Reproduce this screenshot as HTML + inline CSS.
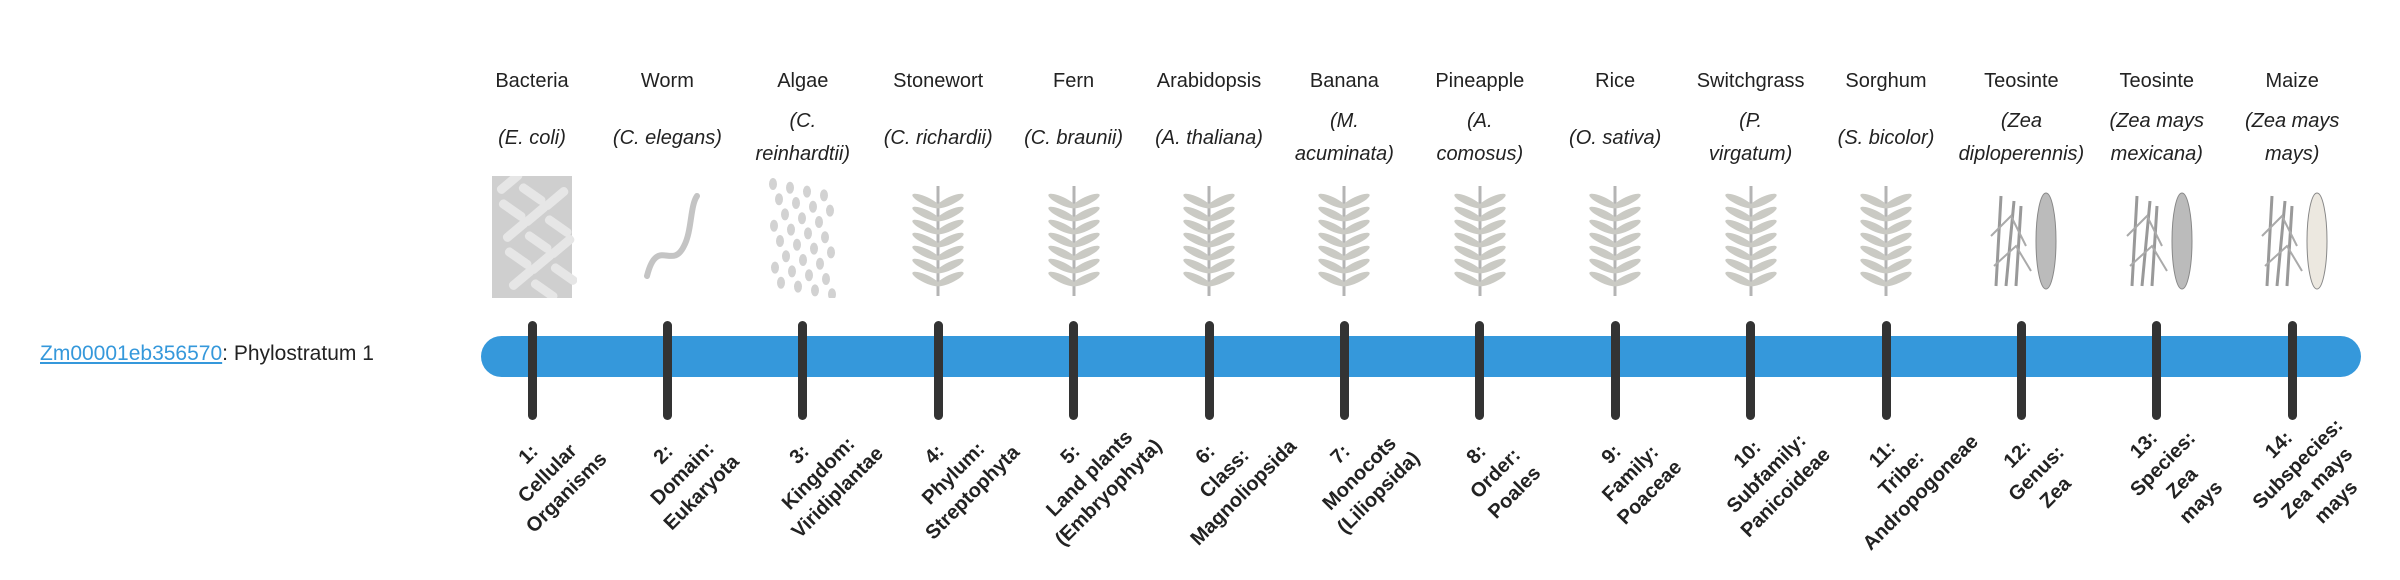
<!DOCTYPE html>
<html><head><meta charset="utf-8"><style>
html,body{margin:0;padding:0;background:#fff;width:2400px;height:580px;overflow:hidden;position:relative;font-family:"Liberation Sans",sans-serif;color:#222}
.t{position:absolute;width:134px;text-align:center;font-size:20px;white-space:nowrap}
.n{top:70px}
.s{font-style:italic;line-height:33px}
.lab{position:absolute;font-size:20px;font-weight:bold;text-align:center;line-height:27px;transform:translate(-50%,-50%) rotate(-45deg);white-space:nowrap;color:#222}
.tick{position:absolute;top:321px;width:9px;height:99px;background:#333;border-radius:5px}
#bar{position:absolute;left:481px;top:336px;width:1880px;height:41px;background:#3598db;border-radius:21px}
#gene{position:absolute;left:40px;top:342px;font-size:21px}
#gene a{color:#3598db;text-decoration:underline}
svg.i{position:absolute;top:176px}
</style></head><body>
<div id="gene"><a>Zm00001eb356570</a>: Phylostratum 1</div>
<div id="bar"></div>
<div id="c"></div>
<script>
var names=["Bacteria","Worm","Algae","Stonewort","Fern","Arabidopsis","Banana","Pineapple","Rice","Switchgrass","Sorghum","Teosinte","Teosinte","Maize"];
var sp=[["(<i>E. coli</i>)"],["(<i>C. elegans</i>)"],["(<i>C.</i>","<i>reinhardtii</i>)"],["(<i>C. richardii</i>)"],["(<i>C. braunii</i>)"],["(<i>A. thaliana</i>)"],["(<i>M.</i>","<i>acuminata</i>)"],["(<i>A.</i>","<i>comosus</i>)"],["(<i>O. sativa</i>)"],["(<i>P.</i>","<i>virgatum</i>)"],["(<i>S. bicolor</i>)"],["(<i>Zea</i>","<i>diploperennis</i>)"],["(<i>Zea mays</i>","<i>mexicana</i>)"],["(<i>Zea mays</i>","<i>mays</i>)"]];
var labs=[["1:","Cellular","Organisms"],["2:","Domain:","Eukaryota"],["3:","Kingdom:","Viridiplantae"],["4:","Phylum:","Streptophyta"],["5:","Land plants","(Embryophyta)"],["6:","Class:","Magnoliopsida"],["7:","Monocots","(Liliopsida)"],["8:","Order:","Poales"],["9:","Family:","Poaceae"],["10:","Subfamily:","Panicoideae"],["11:","Tribe:","Andropogoneae"],["12:","Genus:","Zea"],["13:","Species:","Zea","mays"],["14:","Subspecies:","Zea mays","mays"]];
var h="";
for(var k=0;k<14;k++){
 var x=532+k*135.4;
 h+='<div class="t n" style="left:'+(x-67)+'px">'+names[k]+'</div>';
 var s=sp[k];
 h+='<div class="t s" style="left:'+(x-67)+'px;top:'+(s.length==1?122:105)+'px">'+s.join("<br>")+'</div>';
 h+='<div class="tick" style="left:'+(x-4.5)+'px"></div>';
 h+='<div class="lab" style="left:'+(x+16)+'px;top:474px">'+labs[k].join("<br>")+'</div>';
 var g='<svg class="i" width="90" height="122" style="left:'+(x-45)+'px" viewBox="0 0 90 122">';
 if(k==0){g+='<rect x="5" y="0" width="80" height="122" fill="#cfcfcf"/>';for(var j=0;j<14;j++)g+='<rect x="'+(8+(j*23)%66)+'" y="'+(4+j*8)+'" width="30" height="9" rx="4" fill="#e6e6e6" transform="rotate('+(j%2?35:-40)+' '+(20+(j*23)%66)+' '+(8+j*8)+')"/>';}
 else if(k==1){g+='<path d="M25 100 C35 60 50 95 62 70 C70 55 68 30 75 20" stroke="#c4c4c4" stroke-width="6" fill="none" stroke-linecap="round"/>';}
 else if(k==2){for(var j=0;j<30;j++)g+='<ellipse cx="'+(15+(j*17)%62)+'" cy="'+(8+j*3.8)+'" rx="4" ry="6" fill="#d2d2d2"/>';}
 else if(k>=11){g+='<path d="M20 110 L25 20 M30 110 L38 25 M40 110 L45 30" stroke="#999" stroke-width="3" fill="none"/><path d="M15 60 L35 40 L50 70 M18 90 L40 70 L55 95" stroke="#aaa" stroke-width="2" fill="none"/><ellipse cx="70" cy="65" rx="10" ry="48" fill="'+(k==13?'#ece8e0':'#bbb')+'" stroke="#888"/>';}
 else {g+='<path d="M45 120 L45 10" stroke="#b4b4b4" stroke-width="3"/>';for(var j=0;j<7;j++){var yy=25+j*13;g+='<ellipse cx="33" cy="'+yy+'" rx="15" ry="4" fill="#cacac4" transform="rotate(25 33 '+yy+')"/><ellipse cx="57" cy="'+yy+'" rx="15" ry="4" fill="#cacac4" transform="rotate(-25 57 '+yy+')"/>';}}
 g+='</svg>';
 h+=g;
}
document.getElementById("c").innerHTML=h;
</script>
</body></html>
